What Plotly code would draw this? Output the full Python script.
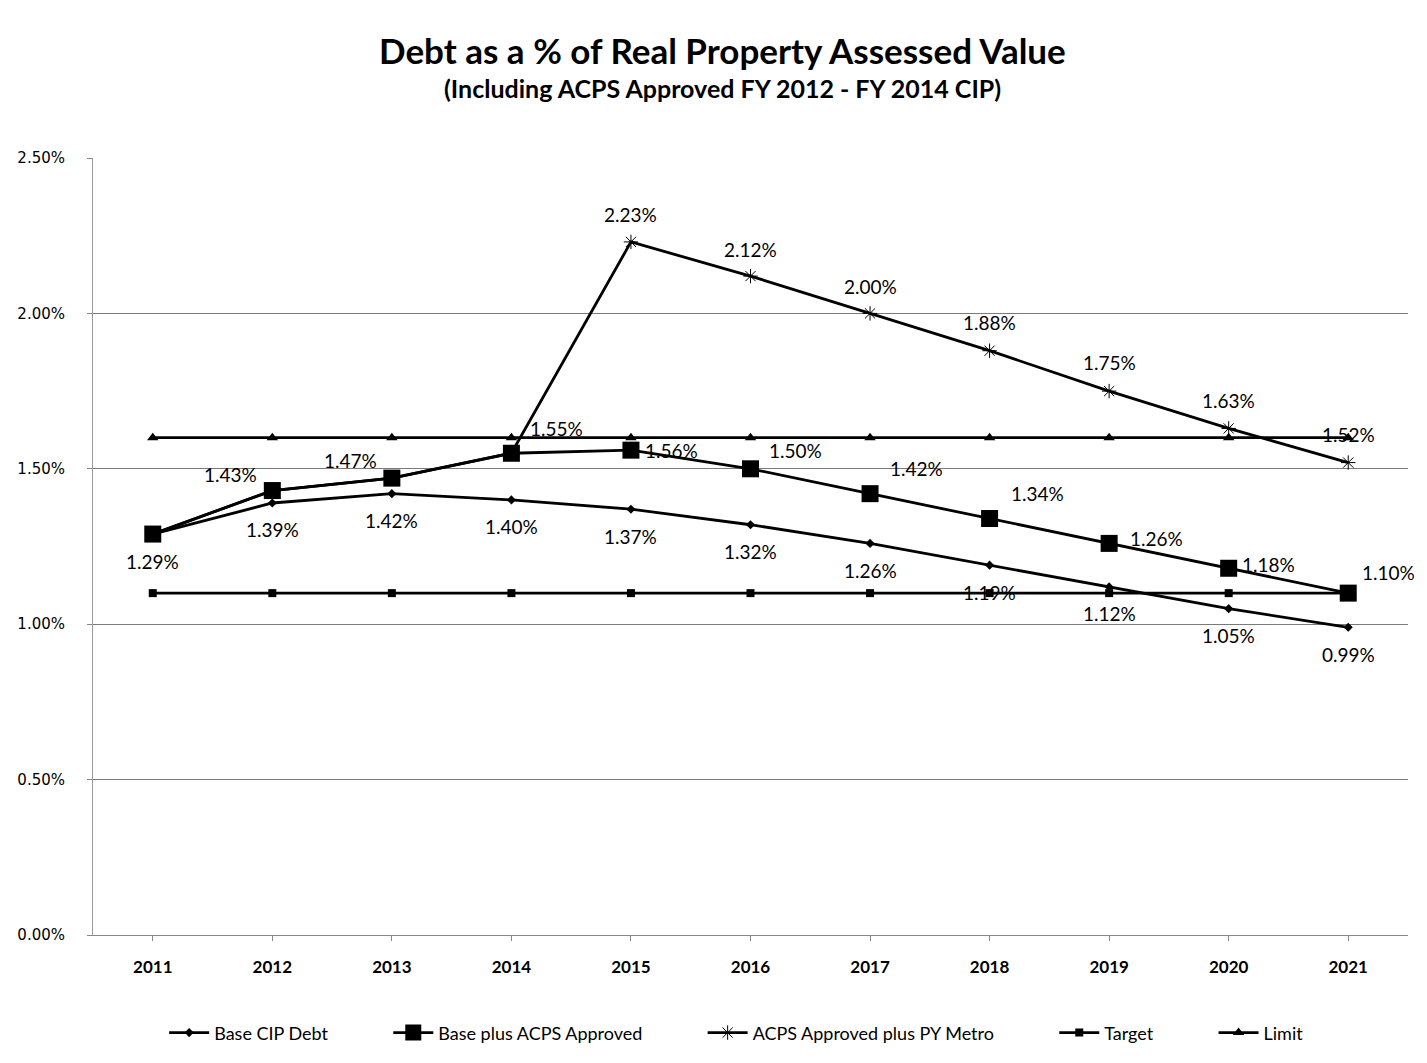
import plotly.graph_objects as go

# Fiscal years on the category axis
years = ["2011", "2012", "2013", "2014", "2015", "2016", "2017", "2018", "2019", "2020", "2021"]

# Debt as a percentage of real property assessed value
base_cip_debt = [1.29, 1.39, 1.42, 1.40, 1.37, 1.32, 1.26, 1.19, 1.12, 1.05, 0.99]
base_plus_acps = [1.29, 1.43, 1.47, 1.55, 1.56, 1.50, 1.42, 1.34, 1.26, 1.18, 1.10]
acps_plus_metro = [1.29, 1.43, 1.47, 1.55, 2.23, 2.12, 2.00, 1.88, 1.75, 1.63, 1.52]
target = [1.10] * 11
limit = [1.60] * 11

series_names = ["Base CIP Debt", "Base plus ACPS Approved", "ACPS Approved plus PY Metro", "Target", "Limit"]

y_ticks = [0.0, 0.5, 1.0, 1.5, 2.0, 2.5]
y_tick_text = ["0.00%", "0.50%", "1.00%", "1.50%", "2.00%", "2.50%"]

# Label offsets in pixels (dx, dy); None hides the label for that point
cip_offsets = [(0, -27)] * 11
acps_offsets = [None, None, None, None, (41, 0), (45, 18), (46, 25), (48, 25), (47, 5), (40, 4), (40, 21)]
metro_offsets = [None, (-42, 16), (-41, 18), (45, 25), (0, 27), (0, 27), (0, 27), (0, 28), (0, 29), (0, 28), (0, 28)]

FONT = "Lato, 'Open Sans', sans-serif"
LABEL_FONT = dict(family=FONT, size=19, color="black")

# spacing after each legend entry
PAD = "\u00a0" * 12

fig = go.Figure()


def add_series(values, name, marker):
    fig.add_trace(go.Scatter(
        x=years, y=values, name=name + PAD, mode="lines+markers",
        line=dict(color="black", width=2.8),
        marker=marker,
    ))


add_series(base_cip_debt, series_names[0], dict(symbol="diamond", size=7, color="black"))
add_series(base_plus_acps, series_names[1], dict(symbol="square", size=17, color="black"))
add_series(acps_plus_metro, series_names[2],
           dict(symbol="asterisk-open", size=12, color="black", line=dict(width=1, color="#333")))
add_series(target, series_names[3], dict(symbol="square", size=8, color="black"))
add_series(limit, series_names[4], dict(symbol="triangle-up", size=10, color="black"))

annotations = []
for values, offsets in ((base_cip_debt, cip_offsets),
                        (base_plus_acps, acps_offsets),
                        (acps_plus_metro, metro_offsets)):
    for idx, (v, off) in enumerate(zip(values, offsets)):
        if off is None:
            continue
        # category index keeps the numeric-looking year strings from being read as numbers
        annotations.append(dict(
            x=idx, y=v, xref="x", yref="y", text=f"{v:.2f}%", showarrow=False,
            xshift=off[0], yshift=off[1], font=LABEL_FONT,
        ))

# Chart title and subtitle
annotations.append(dict(
    x=0.479, y=1.1386, xref="paper", yref="paper", showarrow=False,
    text="<b>Debt as a % of Real Property Assessed Value</b>",
    font=dict(family=FONT, size=35, color="black"),
    xanchor="center", yanchor="middle",
))
annotations.append(dict(
    x=0.479, y=1.0899, xref="paper", yref="paper", showarrow=False,
    text="<b>(Including ACPS Approved FY 2012 - FY 2014 CIP)</b>",
    font=dict(family=FONT, size=25, color="black"),
    xanchor="center", yanchor="middle",
))

fig.update_layout(
    width=1427, height=1063,
    margin=dict(l=93, r=19, t=158, b=126),
    paper_bgcolor="white", plot_bgcolor="white",
    showlegend=True,
    legend=dict(
        orientation="h", x=0.51, y=-0.126, xanchor="center", yanchor="middle",
        font=dict(family=FONT, size=18, color="black"),
        itemwidth=40, tracegroupgap=0,
    ),
    annotations=annotations,
)

fig.update_xaxes(
    type="category", categoryorder="array", categoryarray=years,
    range=[-0.5, len(years) - 0.5], autorange=False,
    showgrid=False, showline=True, linecolor="#888", linewidth=1,
    ticks="outside", tickcolor="#888", ticklen=5,
    tickfont=dict(family=FONT, size=17, color="black", weight="bold"),
    ticklabelstandoff=12,
)
fig.update_yaxes(
    range=[0, 2.5], tickvals=y_ticks, ticktext=y_tick_text,
    showgrid=True, gridcolor="#7a7a7a", gridwidth=1,
    showline=True, linecolor="#999", linewidth=1,
    ticks="outside", tickcolor="#888", ticklen=5,
    tickfont=dict(family="'DejaVu Sans', Verdana, sans-serif", size=15, color="black"),
    ticklabelstandoff=19, zeroline=False,
)

fig.write_html("out.html")
